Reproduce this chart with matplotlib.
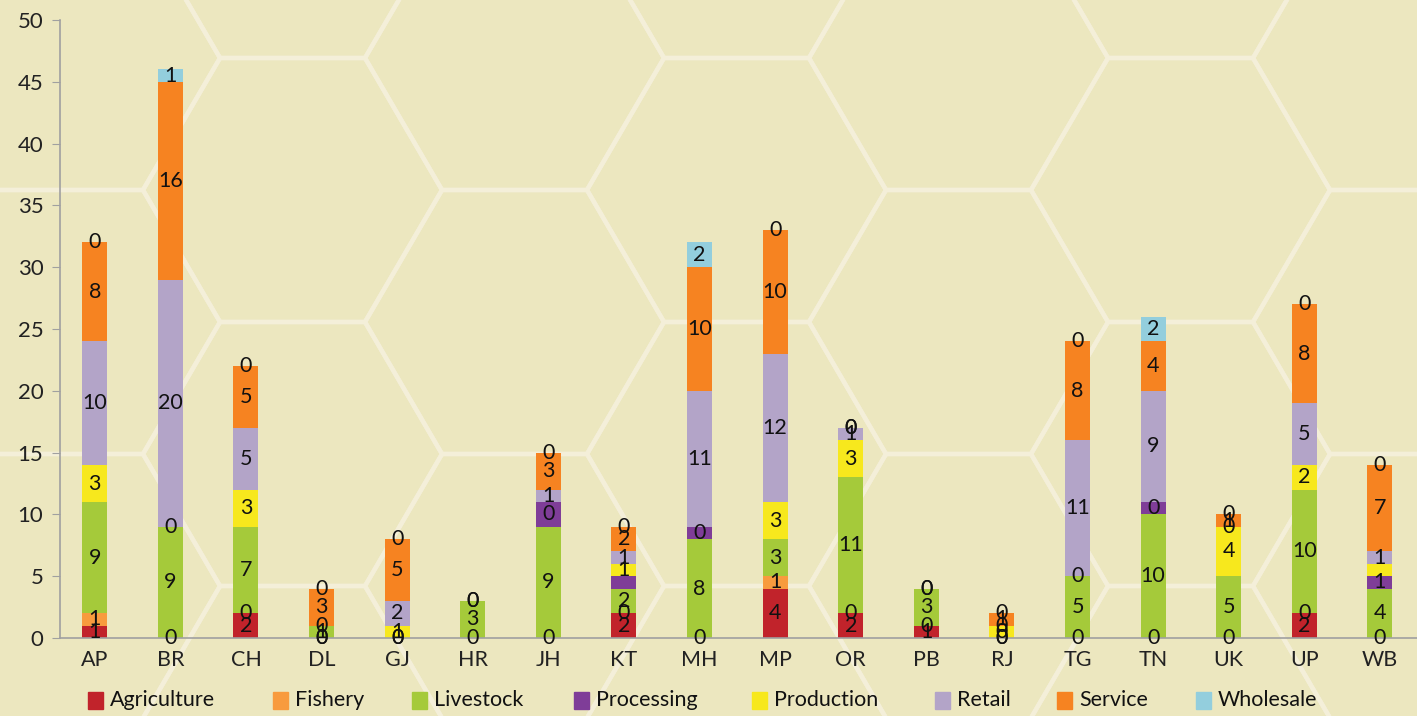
#!/usr/bin/env python3
# coding: UTF-8

import matplotlib
matplotlib.use("Agg")
import matplotlib.pyplot as plt
from matplotlib.patches import Rectangle, Polygon

out_path = "out.png"

states = ["AP", "BR", "CH", "DL", "GJ", "HR", "JH", "KT", "MH",
          "MP", "OR", "PB", "RJ", "TG", "TN", "UK", "UP", "WB"]

sectors = ["Agriculture", "Fishery", "Livestock", "Processing",
           "Production", "Retail", "Service", "Wholesale"]

# segment heights per sector (same order as states)
agriculture = [1, 0, 2, 0, 0, 0, 0, 2, 0, 4, 2, 1, 0, 0, 0, 0, 2, 0]
fishery     = [1, 0, 0, 0, 0, 0, 0, 0, 0, 1, 0, 0, 0, 0, 0, 0, 0, 0]
livestock   = [9, 9, 7, 1, 0, 3, 9, 2, 8, 3, 11, 3, 0, 5, 10, 5, 10, 4]
processing  = [0, 0, 0, 0, 0, 0, 2, 1, 1, 0, 0, 0, 0, 0, 1, 0, 0, 1]
production  = [3, 0, 3, 0, 1, 0, 0, 1, 0, 3, 3, 0, 1, 0, 0, 4, 2, 1]
retail      = [10, 20, 5, 0, 2, 0, 1, 1, 11, 12, 1, 0, 0, 11, 9, 0, 5, 1]
service     = [8, 16, 5, 3, 5, 0, 3, 2, 10, 10, 0, 0, 1, 8, 4, 1, 8, 7]
wholesale   = [0, 1, 0, 0, 0, 0, 0, 0, 2, 0, 0, 0, 0, 0, 2, 0, 0, 0]

# data labels as printed on the chart (None = no label shown)
N = None
agriculture_lbl = [1, 0, 2, 0, 0, 0, 0, 2, 0, 4, 2, 1, 0, 0, 0, 0, 2, 0]
fishery_lbl     = [1, N, 0, 0, N, N, N, 0, N, 1, 0, 0, N, N, N, N, 0, N]
livestock_lbl   = [9, 9, 7, 1, 0, 3, 9, 2, 8, 3, 11, 3, 0, 5, 10, 5, 10, 4]
processing_lbl  = [N, 0, N, 0, N, N, 0, N, 0, N, N, N, N, 0, 0, N, N, 1]
production_lbl  = [3, N, 3, N, 1, N, N, 1, N, 3, 3, N, 0, N, N, 4, 2, N]
retail_lbl      = [10, 20, 5, N, 2, N, 1, 1, 11, 12, 1, N, 0, 11, 9, 0, 5, 1]
service_lbl     = [8, 16, 5, 3, 5, 0, 3, 2, 10, 10, 0, 0, 1, 8, 4, 1, 8, 7]
wholesale_lbl   = [0, 1, 0, 0, 0, 0, 0, 0, 2, 0, 0, 0, 0, 0, 2, 0, 0, 0]

colors = ["#C1232B", "#F89B3E", "#A5CA3A", "#7F3D98",
          "#F7E81D", "#B3A4C8", "#F68321", "#93CEDD"]

bg_color = "#ECE7BF"
hex_color = "#F4EFD9"


def draw_hexes(fig):
    # decorative honeycomb background, in pixel coordinates
    bg = fig.add_axes([0, 0, 1, 1], zorder=-10)
    bg.set_xlim(0, 1417)
    bg.set_ylim(716, 0)
    bg.axis("off")
    for col in range(-1, 7):
        x0 = 220 + 222 * col
        top0 = 58 if col % 2 == 0 else 190
        for k in range(-2, 4):
            top = top0 + 264 * k
            pts = [(x0, top), (x0 + 145, top), (x0 + 222, top + 132),
                   (x0 + 145, top + 264), (x0, top + 264), (x0 - 77, top + 132)]
            bg.add_patch(Polygon(pts, closed=True, fill=False,
                                 edgecolor=hex_color, linewidth=3.2))


def graph():
    plt.rcParams['font.family'] = ['Lato', 'DejaVu Sans']
    fig = plt.figure(figsize=(14.17, 7.16), dpi=100)
    fig.patch.set_facecolor(bg_color)
    draw_hexes(fig)

    ax = fig.add_axes([60 / 1417, 78 / 716, 1 - 60 / 1417, 618 / 716])
    ax.set_facecolor("none")

    series = [agriculture, fishery, livestock, processing,
              production, retail, service, wholesale]
    labels = [agriculture_lbl, fishery_lbl, livestock_lbl, processing_lbl,
              production_lbl, retail_lbl, service_lbl, wholesale_lbl]

    x = list(range(len(states)))
    bottom = [0] * len(states)
    for name, vals, lbls, c in zip(sectors, series, labels, colors):
        ax.bar(x, vals, bottom=bottom, width=0.33, color=c, label=name, zorder=2)
        for i in x:
            if lbls[i] is not None:
                ax.text(i, bottom[i] + vals[i] / 2, str(lbls[i]), ha="center",
                        va="center", fontsize=15.5, color="#111111", zorder=3)
        bottom = [b + v for b, v in zip(bottom, vals)]

    ax.set_xlim(-0.46, 17.49)
    ax.set_ylim(0, 50)
    ax.set_yticks(range(0, 51, 5))
    ax.set_xticks(x)
    ax.set_xticklabels(states)
    ax.tick_params(axis="y", length=6, color="#A0A0A0", labelsize=16, pad=6,
                   labelcolor="#222222")
    ax.tick_params(axis="x", length=0, labelsize=15.5, pad=9, labelcolor="#222222")
    for s in ["top", "right"]:
        ax.spines[s].set_visible(False)
    ax.spines["left"].set_color("#A0A0A0")
    ax.spines["bottom"].set_color("#A0A0A0")
    ax.spines["left"].set_linewidth(1.2)
    ax.spines["bottom"].set_linewidth(1.2)

    # legend along the bottom
    leg_x = [88, 273, 412, 574, 752, 935, 1057, 1196]
    for lx, name, c in zip(leg_x, sectors, colors):
        fig.patches.append(Rectangle((lx / 1417, (716 - 709) / 716), 15 / 1417, 17 / 716,
                                     transform=fig.transFigure, color=c))
        fig.text((lx + 22) / 1417, (716 - 700) / 716, name, fontsize=15.5,
                 va="center", ha="left", color="#111111")

    plt.savefig(out_path, format='png', dpi=100, facecolor=bg_color)


def main():
    graph()


if __name__ == '__main__':
    main()
